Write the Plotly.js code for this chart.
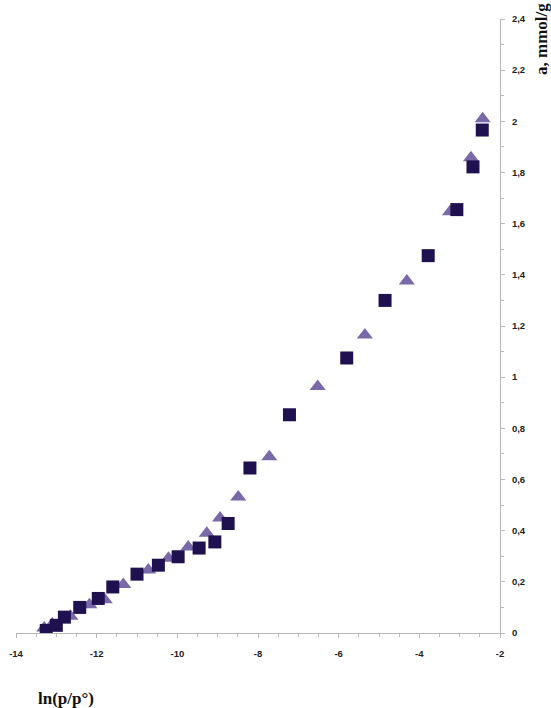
<!DOCTYPE html>
<html>
<head>
<meta charset="utf-8">
<script src="https://cdn.plot.ly/plotly-3.0.1.min.js"></script>
<style>html,body{margin:0;padding:0;background:#fff;}#chart{width:551px;height:708px;}</style>
</head>
<body>
<div id="chart"></div>
<script>
// Series 1: squares
const squareX = [-13.25, -13.0, -12.8, -12.42, -11.96, -11.6, -11.0, -10.47, -9.98, -9.46, -9.07, -8.74, -8.2, -7.22, -5.8, -4.85, -3.78, -3.07, -2.67, -2.44];
const squareY = [0.01, 0.03, 0.062, 0.1, 0.135, 0.18, 0.23, 0.265, 0.298, 0.332, 0.356, 0.428, 0.645, 0.853, 1.075, 1.30, 1.475, 1.655, 1.822, 1.966];
// Series 2: triangles
const triX = [-13.3, -13.1, -12.65, -12.18, -11.8, -11.34, -10.72, -10.22, -9.73, -9.27, -8.94, -8.49, -7.72, -6.52, -5.35, -4.31, -3.24, -2.72, -2.43];
const triY = [0.02, 0.035, 0.065, 0.11, 0.13, 0.19, 0.246, 0.292, 0.336, 0.39, 0.45, 0.532, 0.689, 0.964, 1.165, 1.376, 1.647, 1.858, 2.01];
// Tick labels
const xTickVals = [-14, -12, -10, -8, -6, -4, -2];
const xTickText = ['-14', '-12', '-10', '-8', '-6', '-4', '-2'];

const traces = [
  {x: triX, y: triY, type: 'scatter', mode: 'markers', name: 'triangles',
   marker: {symbol: 'triangle-up', size: 14, color: '#7a68a8', line: {width: 0}}},
  {x: squareX, y: squareY, type: 'scatter', mode: 'markers', name: 'squares',
   marker: {symbol: 'square', size: 13, color: '#1f1050', line: {width: 0}}}
];

const tickFont = {family: 'Liberation Sans Narrow, Arial Narrow, sans-serif', size: 9.5, color: '#222', weight: 'bold'};

const layout = {
  width: 551, height: 708,
  margin: {l: 16, r: 51, t: 19, b: 75},
  paper_bgcolor: '#fff', plot_bgcolor: '#fff',
  showlegend: false,
  separators: ', ',
  xaxis: {
    range: [-14, -2], showgrid: false, zeroline: false,
    showline: true, linecolor: '#b8b8b8', linewidth: 1,
    tickmode: 'array', tickvals: xTickVals, ticktext: xTickText,
    ticks: 'outside', ticklen: 4, tickcolor: '#b8b8b8',
    minor: {dtick: 0.5, ticks: 'outside', ticklen: 3, tickcolor: '#b8b8b8'},
    tickfont: tickFont, ticklabelstandoff: 8
  },
  yaxis: {
    range: [0, 2.4], side: 'right', showgrid: false, zeroline: false,
    showline: true, linecolor: '#b8b8b8', linewidth: 1,
    dtick: 0.2, tick0: 0,
    ticks: 'outside', ticklen: 4, tickcolor: '#b8b8b8',
    minor: {dtick: 0.1, ticks: 'outside', ticklen: 3, tickcolor: '#b8b8b8'},
    tickfont: tickFont, ticklabelstandoff: 5
  },
  annotations: [
    {text: '<b>a, mmol/g</b>', xref: 'paper', yref: 'paper', x: 1.0, y: 1.0,
     xanchor: 'center', yanchor: 'top', xshift: 41, yshift: 18, textangle: -90, showarrow: false,
     font: {family: 'Liberation Serif, Times New Roman, serif', size: 17, color: '#111'}},
    {text: '<b>ln(p/p°)</b>', xref: 'paper', yref: 'paper', x: 0, y: 0,
     xanchor: 'left', yanchor: 'top', xshift: 20, yshift: -54, showarrow: false,
     font: {family: 'Liberation Serif, Times New Roman, serif', size: 17, color: '#111'}}
  ]
};

Plotly.newPlot('chart', traces, layout, {displayModeBar: false, staticPlot: true});
</script>
</body>
</html>
